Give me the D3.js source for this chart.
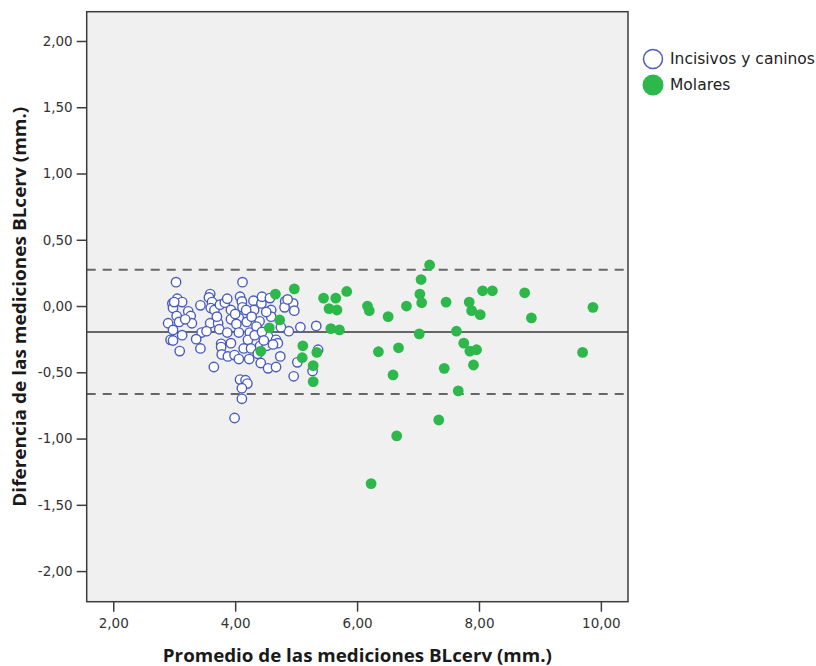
<!DOCTYPE html>
<html>
<head>
<meta charset="utf-8">
<script src="https://cdn.jsdelivr.net/npm/d3@7"></script>
<style>
  html, body { margin: 0; padding: 0; background: #ffffff; }
  svg { display: block; }
</style>
</head>
<body>
<svg id="chart" width="816" height="666"></svg>
<script>
// ---- data ----
const xTicks = [2, 4, 6, 8, 10];
const yTicks = [-2, -1.5, -1, -0.5, 0, 0.5, 1, 1.5, 2];
const seriesNames = ["Incisivos y caninos", "Molares"];
const meanDiff = -0.195;
const upperLimit = 0.274;
const lowerLimit = -0.664;

// Incisivos y caninos: [promedio, diferencia]
const incisivos = [
  [3.03,0.18],[4.12,0.18],[2.97,0.02],[3.05,0.055],[3.13,0.03],[2.98,-0.015],[3.23,-0.04],
  [3.27,-0.075],[3.29,-0.13],[3.04,-0.075],[2.90,-0.13],[3.08,-0.12],[2.98,-0.18],[3.13,-0.22],
  [2.94,-0.255],[2.98,-0.26],[3.09,-0.34],[3.43,-0.32],[3.43,0.005],[3.59,0.09],[3.57,0.065],
  [3.62,0.03],[3.60,-0.015],[3.66,-0.03],[3.75,0.01],[3.83,0.025],[3.93,-0.03],[4.08,0.07],
  [4.11,0.035],[4.12,-0.01],[3.93,-0.10],[4.06,-0.09],[4.30,0.04],[4.43,0.02],[4.31,-0.03],
  [4.59,-0.03],[4.40,-0.115],[4.59,-0.08],[4.19,-0.12],[3.59,-0.13],[3.72,-0.13],[3.45,-0.20],
  [3.53,-0.19],[3.74,-0.175],[3.87,-0.20],[4.02,-0.135],[4.06,-0.20],[4.24,-0.20],[4.35,-0.155],
  [4.54,-0.23],[4.21,-0.255],[3.77,-0.285],[3.77,-0.31],[3.78,-0.365],[3.88,-0.38],[3.99,-0.37],
  [4.06,-0.40],[4.23,-0.40],[4.14,-0.32],[4.26,-0.32],[4.41,-0.30],[4.52,-0.30],[4.67,-0.255],
  [4.70,-0.28],[4.62,-0.29],[4.74,-0.38],[4.42,-0.43],[4.54,-0.47],[4.67,-0.46],[3.65,-0.46],
  [4.08,-0.555],[4.17,-0.56],[4.20,-0.585],[4.11,-0.62],[4.11,-0.70],[3.99,-0.845],[4.82,0.035],
  [4.95,0.02],[4.97,-0.035],[4.88,-0.19],[5.07,-0.16],[5.33,-0.15],[5.02,-0.425],[4.96,-0.53],
  [5.27,-0.49],[5.36,-0.33],[4.81,-0.01],[3.87,0.055],[4.44,0.07],[4.57,0.06],[4.86,0.05],
  [3.93,-0.28],[4.32,-0.22],[4.44,-0.195],[4.18,-0.03],[4.51,-0.045],[4.75,-0.16],[3.00,0.03],
  [3.18,-0.10],[3.36,-0.25],[3.70,-0.08],[4.00,-0.06],[4.27,-0.08],[4.47,-0.26],[4.37,-0.36]
];

// Molares: [promedio, diferencia]
const molares = [
  [4.66,0.09],[4.97,0.13],[4.73,-0.105],[4.56,-0.165],[4.42,-0.34],[5.11,-0.30],[5.34,-0.35],
  [5.10,-0.39],[5.28,-0.45],[5.28,-0.57],[5.45,0.06],[5.65,0.06],[5.54,-0.02],[5.67,-0.03],
  [5.57,-0.17],[5.71,-0.18],[5.83,0.11],[6.17,0.00],[6.20,-0.035],[6.51,-0.08],[6.81,0.00],
  [6.35,-0.345],[6.68,-0.315],[6.59,-0.52],[6.65,-0.98],[6.23,-1.34],[7.19,0.31],[7.05,0.20],
  [7.03,0.09],[7.06,0.025],[7.02,-0.21],[7.46,0.03],[7.34,-0.86],[7.43,-0.47],[7.66,-0.64],
  [7.63,-0.19],[7.75,-0.28],[7.85,-0.34],[7.96,-0.33],[7.91,-0.445],[7.84,0.03],[7.88,-0.035],
  [8.06,0.115],[8.22,0.115],[8.02,-0.065],[8.75,0.10],[8.86,-0.09],[9.87,-0.01],[9.70,-0.35]
];

// ---- layout ----
const svg = d3.select("#chart");
const plot = { left: 86.7, right: 628, top: 11.7, bottom: 601.7 };

const x = d3.scaleLinear().domain([1.564, 10.445]).range([plot.left, plot.right]);
const y = d3.scaleLinear().domain([-2.231, 2.221]).range([plot.bottom, plot.top]);
const fmt = v => d3.format(".2f")(v).replace(".", ",").replace("\u2212", "-");

const blue = "#4a5cbf";
const green = "#2db84b";
const ink = "#3c3c3c";

// plot background
svg.append("rect")
  .attr("x", plot.left).attr("y", plot.top)
  .attr("width", plot.right - plot.left).attr("height", plot.bottom - plot.top)
  .attr("fill", "#f0f0f0");

// reference lines
const refLines = [
  { v: upperLimit, dash: "9,7" },
  { v: meanDiff, dash: null },
  { v: lowerLimit, dash: "9,7" }
];
svg.selectAll("line.ref").data(refLines).join("line")
  .attr("class", "ref")
  .attr("x1", plot.left).attr("x2", plot.right)
  .attr("y1", d => y(d.v)).attr("y2", d => y(d.v))
  .attr("stroke", "#666666")
  .attr("stroke-width", 2)
  .attr("stroke-dasharray", d => d.dash);

// points
svg.append("g").selectAll("circle").data(incisivos).join("circle")
  .attr("cx", d => x(d[0])).attr("cy", d => y(d[1]))
  .attr("r", 4.7)
  .attr("fill", "#ffffff")
  .attr("stroke", blue)
  .attr("stroke-width", 1.4);

svg.append("g").selectAll("circle").data(molares).join("circle")
  .attr("cx", d => x(d[0])).attr("cy", d => y(d[1]))
  .attr("r", 5.4)
  .attr("fill", green);

// frame
svg.append("rect")
  .attr("x", plot.left).attr("y", plot.top)
  .attr("width", plot.right - plot.left).attr("height", plot.bottom - plot.top)
  .attr("fill", "none")
  .attr("stroke", ink).attr("stroke-width", 1.5);

// axes
const xAxis = svg.append("g")
  .attr("transform", `translate(0,${plot.bottom})`)
  .call(d3.axisBottom(x).tickValues(xTicks).tickFormat(fmt).tickSize(10).tickPadding(7));
const yAxis = svg.append("g")
  .attr("transform", `translate(${plot.left},0)`)
  .call(d3.axisLeft(y).tickValues(yTicks).tickFormat(fmt).tickSize(10).tickPadding(4));

[xAxis, yAxis].forEach(g => {
  g.select(".domain").remove();
  g.selectAll(".tick line").attr("stroke", ink).attr("stroke-width", 1.5);
  g.selectAll(".tick text")
    .attr("fill", "#333333")
    .style("font-family", "'DejaVu Sans', sans-serif")
    .style("font-size", "13.5px");
});

// axis titles
svg.append("text")
  .attr("x", (plot.left + plot.right) / 2).attr("y", 662)
  .attr("text-anchor", "middle")
  .attr("textLength", 389).attr("lengthAdjust", "spacingAndGlyphs")
  .style("font-family", "'Open Sans', 'Noto Sans', sans-serif")
  .style("font-weight", "bold")
  .style("font-size", "18px")
  .attr("fill", "#1a1a1a")
  .text("Promedio de las mediciones BLcerv (mm.)");

svg.append("text")
  .attr("transform", `translate(26,${(plot.top + plot.bottom) / 2}) rotate(-90)`)
  .attr("text-anchor", "middle")
  .attr("textLength", 400).attr("lengthAdjust", "spacingAndGlyphs")
  .style("font-family", "'Open Sans', 'Noto Sans', sans-serif")
  .style("font-weight", "bold")
  .style("font-size", "18px")
  .attr("fill", "#1a1a1a")
  .text("Diferencia de las mediciones BLcerv (mm.)");

// legend
const legend = svg.append("g");
const legendRows = legend.selectAll("g").data(seriesNames).join("g")
  .attr("transform", (d, i) => `translate(653,${59 + i * 26})`);
legendRows.append("circle")
  .attr("r", d => d === seriesNames[0] ? 9.5 : 10.5)
  .attr("fill", d => d === seriesNames[0] ? "#ffffff" : green)
  .attr("stroke", d => d === seriesNames[0] ? blue : "none")
  .attr("stroke-width", 1.5);
legendRows.append("text")
  .attr("x", 17).attr("dy", "0.35em")
  .style("font-family", "'DejaVu Sans', sans-serif")
  .style("font-size", "15.5px")
  .attr("fill", "#222222")
  .text(d => d);
</script>
</body>
</html>
